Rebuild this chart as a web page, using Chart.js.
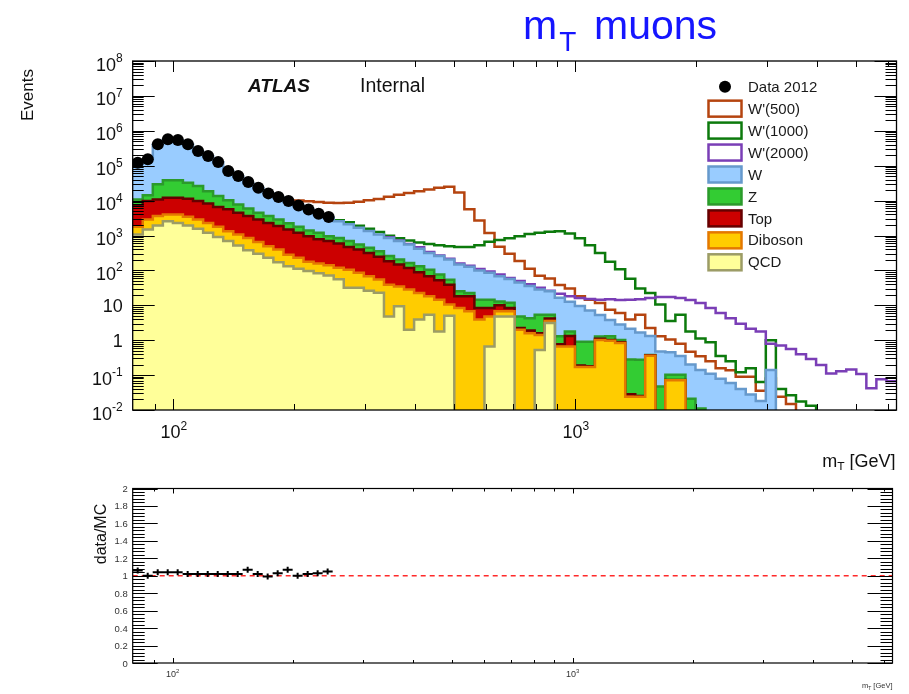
<!DOCTYPE html>
<html>
<head>
<meta charset="utf-8">
<script src="https://cdn.jsdelivr.net/npm/chart.js@4/dist/chart.umd.min.js"></script>
<style>
  html, body { margin: 0; padding: 0; background: #ffffff; overflow: hidden; }
  #wrap { position: relative; width: 909px; height: 694px; }
  canvas { position: absolute; left: 0; }
  #mainPlot { top: 0; }
  #ratioPlot { top: 470px; }
</style>
</head>
<body>
<div id="wrap">
  <canvas id="mainPlot" width="909" height="470"></canvas>
  <canvas id="ratioPlot" width="909" height="224"></canvas>
</div>
<script>
// ---------------------------------------------------------------------------
// m_T distribution for the muon channel: SM stack, W' signals and 2012 data
// ---------------------------------------------------------------------------
const FONT = '"Liberation Sans", Arial, Helvetica, sans-serif';
const X_MIN = 79.43, X_MAX = 6310;

// bin edges [GeV], 40 bins per decade
const mtEdges = [79.43, 84.14, 89.13, 94.41, 100, 105.9, 112.2, 118.9, 125.9, 133.4,
  141.3, 149.6, 158.5, 167.9, 177.8, 188.4, 199.5, 211.3, 223.9, 237.1,
  251.2, 266.1, 281.8, 298.5, 316.2, 335.0, 354.8, 375.8, 398.1, 421.7,
  446.7, 473.2, 501.2, 530.9, 562.3, 595.7, 631.0, 668.3, 707.9, 749.9,
  794.3, 841.4, 891.3, 944.1, 1000, 1059, 1122, 1189, 1259, 1334,
  1413, 1496, 1585, 1679, 1778, 1884, 1995, 2113, 2239, 2371,
  2512, 2661, 2818, 2985, 3162, 3350, 3548, 3758, 3981, 4217,
  4467, 4732, 5012, 5309, 5623, 5957, 6310];

// observed events (first 20 bins)
const dataMt = [122000, 153000, 412000, 573000, 548000, 412000, 265000, 190000, 128000, 70500,
  50700, 34000, 23400, 16100, 12600, 9680, 7280, 5590, 4190, 3370];

// data / MC in the same bins
const ratioDataMC = [1.06, 1.00, 1.04, 1.04, 1.04, 1.02, 1.02, 1.02, 1.02, 1.02,
  1.02, 1.07, 1.02, 0.99, 1.03, 1.07, 1.00, 1.02, 1.03, 1.05];

// background expectations per bin
const qcd = [1070, 1480, 1950, 2570, 2290, 1950, 1550, 1200, 912, 692,
  513, 380, 302, 229, 170, 132, 112, 95.5, 83, 71,
  56, 31.6, 31.6, 26.3, 22.9, 4.79, 9.33, 2.0, 3.89, 5.37,
  1.78, 5.01, 0, 0, 0, 0.66, 4.79, 4.79, 0, 0,
  0.525, 3.09, 0, 0, 0, 0, 0, 0, 0, 0,
  0, 0, 0, 0, 0, 0, 0, 0, 0, 0,
  0, 0, 0, 0, 0, 0, 0, 0, 0, 0,
  0, 0, 0, 0, 0, 0];

const diboson = [706, 1400, 1680, 1410, 1690, 1520, 1330, 1090, 866, 626,
  559, 471, 344, 261, 228, 150, 117, 82.5, 75, 70,
  64, 73, 53.5, 41.3, 32.1, 34.1, 25.4, 26.2, 18.5, 12.8,
  12.7, 5.5, 8.32, 6.76, 3.89, 4.13, 1.97, 1.97, 2.0, 1.59,
  0.89, 0.46, 0.66, 0.66, 0.17, 0.17, 1.02, 0.96, 0.83, 0.024,
  0.024, 0.36, 0, 0.071, 0.071, 0, 0, 0, 0, 0,
  0, 0, 0, 0, 0, 0, 0, 0, 0, 0,
  0, 0, 0, 0, 0, 0];

const topQuark = [5470, 6890, 7080, 8040, 8040, 7750, 6890, 6030, 4830, 4300,
  3400, 2780, 2240, 1800, 1460, 1200, 973, 777, 618, 551,
  469, 363, 313, 248, 190, 143, 113, 89.3, 66.7, 49.4,
  38.0, 28.4, 9.9, 11.4, 4.43, 3.53, 3.24, 1.56, 0.24, 0.32,
  0.17, 0.62, 0.1, 0.66, 0.017, 0.008, 0.073, 0.045, 0.039, 0.0042,
  0.0011, 0.009, 0, 0.0016, 0.0016, 0, 0, 0, 0, 0,
  0, 0, 0, 0, 0, 0, 0, 0, 0, 0,
  0, 0, 0, 0, 0, 0];

const zBoson = [3470, 4350, 18800, 26000, 26000, 21100, 16500, 10300, 6880, 4610,
  3300, 2260, 1580, 1340, 1020, 760, 576, 425, 426, 263,
  262, 224, 152, 131, 110, 75, 56, 44.5, 42.9, 37.1,
  23.4, 14.8, 6.9, 4.2, 6.13, 6.13, 2.9, 3.43, 2.55, 2.36,
  3.79, 1.2, 0.53, 0.46, 0.72, 0.73, 0.19, 0.29, 0.15, 0.25,
  0.25, 0.008, 0.047, 0.03, 0.03, 0.021, 0.011, 0, 0, 0,
  0, 0, 0, 0, 0, 0, 0, 0, 0, 0,
  0, 0, 0, 0, 0, 0];

const wBoson = [104000, 137000, 369000, 512000, 487000, 375000, 231000, 168000, 112000, 59000,
  41200, 25700, 18400, 12600, 9420, 6880, 5470, 4120, 2870, 2280,
  1720, 1400, 1110, 902, 717, 594, 488, 388, 285, 211,
  181, 150, 123, 104, 85.6, 70.7, 54.7, 44.5, 39.9, 31.2,
  22.8, 19.7, 15.3, 10.8, 8.64, 6.17, 3.96, 2.51, 1.80, 1.86,
  1.39, 0.94, 0.43, 0.35, 0.25, 0.18, 0.13, 0.11, 0.079, 0.059,
  0.040, 0.028, 0.018, 0.14, 0, 0, 0, 0, 0, 0,
  0, 0, 0, 0, 0, 0];

// W' signal hypotheses (added on top of the SM expectation)
const wPrime500 = [null, null, null, null, null, null, null, null, null, null,
  null, null, null, null, null, null, 10000, 9550, 9120, 8710,
  8510, 8710, 9330, 10200, 11200, 12900, 14800, 16600, 18600, 20900,
  23400, 25100, 17000, 5620, 2690, 1175, 479, 302, 186, 112,
  70.8, 58.9, 38.0, 30.2, 18.2, 14.5, 11.7, 7.41, 6.03, 3.89,
  5.37, 2.24, 1.29, 1.05, 0.794, 0.468, 0.347, 0.251, 0.158, 0.138,
  0.0891, 0.0891, 0.0355, 0.0794, 0.024, 0.0148, 0, 0, 0, 0,
  0, 0, 0, 0, 0, 0];

const wPrime1000 = [null, null, null, null, null, null, null, null, null, null,
  null, null, null, null, null, null, null, null, null, null,
  2750, 2400, 1900, 1550, 1260, 977, 832, 724, 631, 575,
  525, 490, 468, 468, 525, 661, 741, 832, 955, 1100,
  1200, 1290, 1320, 1150, 832, 525, 316, 178, 107, 57.5,
  30.2, 22.4, 10.5, 3.55, 5.37, 1.78, 1.12, 0.871, 0.355, 0.251,
  0.12, 0.158, 0.0631, 1.0, 0.0398, 0.0263, 0.0174, 0.0132, 0, 0,
  0, 0, 0, 0, 0, 0];

const wPrime2000 = [null, null, null, null, null, null, null, null, null, null,
  null, null, null, null, null, null, null, null, null, null,
  null, null, null, null, null, 891, 724, 575, 457, 339,
  269, 214, 158, 135, 110, 93.3, 75.9, 60.3, 50.1, 39.8,
  31.6, 26.3, 21.4, 18.2, 16.2, 15.1, 14.5, 14.8, 14.1, 14.5,
  14.8, 16.2, 17.4, 17.4, 16.2, 14.1, 11.7, 8.32, 6.03, 4.27,
  2.95, 2.14, 1.78, 0.794, 0.708, 0.562, 0.398, 0.288, 0.195, 0.112,
  0.129, 0.145, 0.107, 0.0417, 0.0759, 0.0661];

// axis tick values and labels
const yMajorTicks = [1e-2, 1e-1, 1, 10, 1e2, 1e3, 1e4, 1e5, 1e6, 1e7, 1e8];
const yTickLabels = [['10', '-2'], ['10', '-1'], ['1', ''], ['10', ''], ['10', '2'], ['10', '3'],
  ['10', '4'], ['10', '5'], ['10', '6'], ['10', '7'], ['10', '8']];
const xMajorTicks = [100, 1000];
const xTickLabels = [['10', '2'], ['10', '3']];
const xMinorTicks = [90, 200, 300, 400, 500, 600, 700, 800, 900, 2000, 3000, 4000, 5000, 6000];
const ratioTicks = [0, 0.2, 0.4, 0.6, 0.8, 1, 1.2, 1.4, 1.6, 1.8, 2];
const ratioTickLabels = ['0', '0.2', '0.4', '0.6', '0.8', '1', '1.2', '1.4', '1.6', '1.8', '2'];

// ---------------------------------------------------------------------------
const nBins = mtEdges.length - 1;
const LOG_FLOOR = 1e-4;   // empty bins are drawn below the visible range
const binCenters = mtEdges.slice(0, nBins).map((e, i) => Math.sqrt(e * mtEdges[i + 1]));

function stepPoints(values) {
  const pts = values.map((v, i) => ({ x: mtEdges[i], y: v === null ? null : Math.max(v, LOG_FLOOR) }));
  const last = values[values.length - 1];
  pts.push({ x: mtEdges[nBins], y: last === null ? null : Math.max(last, LOG_FLOOR) });
  return pts;
}

const stackDefs = [
  { label: 'QCD', values: qcd, fill: '#ffff99', line: '#9c9c66' },
  { label: 'Diboson', values: diboson, fill: '#ffcc00', line: '#e47800' },
  { label: 'Top', values: topQuark, fill: '#cc0000', line: '#660000' },
  { label: 'Z', values: zBoson, fill: '#33cc33', line: '#2b9a2b' },
  { label: 'W', values: wBoson, fill: '#99ccff', line: '#6699cc' }
];
const signalDefs = [
  { label: "W'(500)", values: wPrime500, line: '#b5440f' },
  { label: "W'(1000)", values: wPrime1000, line: '#0c7a0c' },
  { label: "W'(2000)", values: wPrime2000, line: '#7a3eb6' }
];

// cumulative stack sums
let running = new Array(nBins).fill(0);
const stackDatasets = stackDefs.map((s, k) => {
  running = running.map((acc, i) => acc + s.values[i]);
  return {
    label: s.label,
    data: stepPoints(running.slice()),
    stepped: 'before',
    fill: 'start',
    backgroundColor: s.fill,
    borderColor: s.line,
    borderWidth: 2.5,
    pointRadius: 0,
    borderJoinStyle: 'miter',
    order: 1 + k
  };
});

const signalDatasets = signalDefs.map((s, k) => ({
  label: s.label,
  data: stepPoints(s.values),
  stepped: 'before',
  fill: false,
  borderColor: s.line,
  borderWidth: 2.5,
  pointRadius: 0,
  borderJoinStyle: 'miter',
  order: 8 - k
}));

const dataDataset = {
  label: 'Data 2012',
  data: dataMt.map((v, i) => ({ x: binCenters[i], y: v })),
  showLine: false,
  pointRadius: 6,
  pointBackgroundColor: '#000000',
  pointBorderColor: '#000000',
  pointBorderWidth: 0,
  order: 0
};

// ---------------------------------------------------------------------------
function line(ctx, x1, y1, x2, y2) {
  ctx.beginPath(); ctx.moveTo(x1, y1); ctx.lineTo(x2, y2); ctx.stroke();
}

function powLabel(ctx, base, exp, x, yBase, align, baseSize, expSize, expRise) {
  ctx.font = `${baseSize}px ${FONT}`;
  const wb = ctx.measureText(base).width;
  ctx.font = `${expSize}px ${FONT}`;
  const we = exp ? ctx.measureText(exp).width : 0;
  const total = wb + we;
  const x0 = align === 'right' ? x - total : (align === 'center' ? x - total / 2 : x);
  ctx.textAlign = 'left';
  ctx.textBaseline = 'alphabetic';
  ctx.font = `${baseSize}px ${FONT}`;
  ctx.fillText(base, x0, yBase);
  if (exp) {
    ctx.font = `${expSize}px ${FONT}`;
    ctx.fillText(exp, x0 + wb, yBase - expRise);
  }
}

function subLabel(ctx, main, sub, rest, xRight, yBase, size, subSize, subDrop) {
  ctx.font = `${size}px ${FONT}`;
  const w1 = ctx.measureText(main).width;
  const w3 = ctx.measureText(rest).width;
  ctx.font = `${subSize}px ${FONT}`;
  const w2 = ctx.measureText(sub).width;
  const x0 = xRight - (w1 + w2 + w3);
  ctx.textAlign = 'left';
  ctx.textBaseline = 'alphabetic';
  ctx.font = `${size}px ${FONT}`;
  ctx.fillText(main, x0, yBase);
  ctx.fillText(rest, x0 + w1 + w2, yBase);
  ctx.font = `${subSize}px ${FONT}`;
  ctx.fillText(sub, x0 + w1, yBase + subDrop);
}

// frame, ticks, labels, legend and captions of the main panel
const mainDecor = {
  id: 'mainDecor',
  afterDraw(chart) {
    const { ctx, chartArea: a, scales } = chart;
    const xs = scales.x, ys = scales.y;
    ctx.save();
    ctx.strokeStyle = '#000';
    ctx.fillStyle = '#000';

    // y ticks, both sides
    ctx.lineWidth = 1;
    yMajorTicks.forEach(v => {
      const py = Math.round(ys.getPixelForValue(v)) + 0.5;
      line(ctx, a.left, py, a.left + 22, py);
      line(ctx, a.right - 22, py, a.right, py);
    });
    for (let d = -2; d < 8; d++) {
      for (let m = 2; m <= 9; m++) {
        const py = Math.round(ys.getPixelForValue(m * Math.pow(10, d))) + 0.5;
        line(ctx, a.left, py, a.left + 11, py);
        line(ctx, a.right - 11, py, a.right, py);
      }
    }
    // x ticks, bottom and top
    xMajorTicks.forEach(v => {
      const px = Math.round(xs.getPixelForValue(v)) + 0.5;
      line(ctx, px, a.bottom, px, a.bottom - 11);
      line(ctx, px, a.top, px, a.top + 11);
    });
    xMinorTicks.forEach(v => {
      const px = Math.round(xs.getPixelForValue(v)) + 0.5;
      line(ctx, px, a.bottom, px, a.bottom - 6);
      line(ctx, px, a.top, px, a.top + 6);
    });

    // frame
    ctx.lineWidth = 1.3;
    ctx.strokeRect(a.left, a.top, a.right - a.left, a.bottom - a.top);

    // y tick labels
    ctx.fillStyle = '#111';
    yMajorTicks.forEach((v, i) => {
      const py = ys.getPixelForValue(v);
      const [b, e] = yTickLabels[i];
      if (e) powLabel(ctx, b, e, a.left - 10, py + 9.5, 'right', 18, 12, 8.5);
      else powLabel(ctx, b, '', a.left - 10, py + 6.5, 'right', 18, 12, 0);
    });
    // x tick labels
    xMajorTicks.forEach((v, i) => {
      const px = xs.getPixelForValue(v);
      const [b, e] = xTickLabels[i];
      powLabel(ctx, b, e, px + 1, a.bottom + 28, 'center', 18, 12, 8.5);
    });

    // axis titles
    ctx.save();
    ctx.translate(33, 95);
    ctx.rotate(-Math.PI / 2);
    ctx.font = `17px ${FONT}`;
    ctx.textAlign = 'center';
    ctx.textBaseline = 'alphabetic';
    ctx.fillText('Events', 0, 0);
    ctx.restore();
    subLabel(ctx, 'm', 'T', ' [GeV]', a.right - 1, 467, 18, 12, 4);

    // ATLAS label
    ctx.textAlign = 'left';
    ctx.textBaseline = 'alphabetic';
    ctx.font = `italic bold 19px ${FONT}`;
    ctx.fillText('ATLAS', 248, 92);
    ctx.font = `19.5px ${FONT}`;
    ctx.fillText('Internal', 360, 92);

    // legend
    const lx = 708.5, bw = 33, bh = 16, tx = 748, ly0 = 86.7, ldy = 21.95;
    const items = [{ label: 'Data 2012', kind: 'dot' }]
      .concat(signalDefs.map(s => ({ label: s.label, kind: 'line', line: s.line })))
      .concat(stackDefs.slice().reverse().map(s => ({ label: s.label, kind: 'box', fill: s.fill, line: s.line })));
    items.forEach((it, k) => {
      const cy = ly0 + k * ldy;
      if (it.kind === 'dot') {
        ctx.fillStyle = '#000';
        ctx.beginPath(); ctx.arc(lx + bw / 2, cy, 6, 0, Math.PI * 2); ctx.fill();
      } else {
        ctx.fillStyle = it.kind === 'box' ? it.fill : '#ffffff';
        ctx.fillRect(lx, cy - bh / 2, bw, bh);
        ctx.strokeStyle = it.line;
        ctx.lineWidth = 2.5;
        ctx.strokeRect(lx, cy - bh / 2, bw, bh);
      }
      ctx.fillStyle = '#1a1a1a';
      ctx.font = `15px ${FONT}`;
      ctx.textAlign = 'left';
      ctx.textBaseline = 'middle';
      ctx.fillText(it.label, tx, cy + 1);
    });

    // page caption
    ctx.fillStyle = '#1515ff';
    ctx.textBaseline = 'alphabetic';
    ctx.font = `41px ${FONT}`;
    ctx.fillText('m', 523, 39);
    const wm = ctx.measureText('m').width;
    ctx.font = `28px ${FONT}`;
    ctx.fillText('T', 523 + wm + 2, 51);
    ctx.font = `41px ${FONT}`;
    ctx.fillText('muons', 594, 39);

    ctx.restore();
  }
};

new Chart(document.getElementById('mainPlot'), {
  type: 'line',
  data: { datasets: [dataDataset].concat(stackDatasets, signalDatasets) },
  options: {
    responsive: false,
    animation: false,
    devicePixelRatio: 1,
    events: [],
    layout: { padding: { left: 132.7, right: 12.5, top: 61, bottom: 60 } },
    scales: {
      x: { type: 'logarithmic', min: X_MIN, max: X_MAX, display: false },
      y: { type: 'logarithmic', min: 1e-2, max: 1e8, display: false }
    },
    plugins: { legend: { display: false }, tooltip: { enabled: false } }
  },
  plugins: [mainDecor]
});

// ---------------------------------------------------------------------------
// ratio panel
const ratioSegments = [];
ratioDataMC.forEach((r, i) => {
  ratioSegments.push({ x: mtEdges[i], y: r }, { x: mtEdges[i + 1], y: r }, { x: mtEdges[i + 1], y: null });
});

const ratioDecor = {
  id: 'ratioDecor',
  afterDraw(chart) {
    const { ctx, chartArea: a, scales } = chart;
    const xs = scales.x, ys = scales.y;
    ctx.save();
    ctx.strokeStyle = '#000';
    ctx.lineWidth = 1;
    ratioTicks.forEach(v => {
      const py = Math.round(ys.getPixelForValue(v)) + 0.5;
      line(ctx, a.left, py, a.left + 25, py);
      line(ctx, a.right - 25, py, a.right, py);
    });
    for (let k = 0; k < 50; k++) {
      if (k % 5 === 0) continue;
      const py = Math.round(ys.getPixelForValue(k * 0.04)) + 0.5;
      line(ctx, a.left, py, a.left + 12, py);
      line(ctx, a.right - 12, py, a.right, py);
    }
    xMajorTicks.forEach(v => {
      const px = Math.round(xs.getPixelForValue(v)) + 0.5;
      line(ctx, px, a.bottom, px, a.bottom - 5);
      line(ctx, px, a.top, px, a.top + 5);
    });
    xMinorTicks.forEach(v => {
      const px = Math.round(xs.getPixelForValue(v)) + 0.5;
      line(ctx, px, a.bottom, px, a.bottom - 3);
      line(ctx, px, a.top, px, a.top + 3);
    });
    ctx.lineWidth = 1.2;
    ctx.strokeRect(a.left, a.top, a.right - a.left, a.bottom - a.top);

    ctx.fillStyle = '#333';
    ratioTicks.forEach((v, i) => {
      const py = ys.getPixelForValue(v);
      ctx.font = `9.5px ${FONT}`;
      ctx.textAlign = 'right';
      ctx.textBaseline = 'alphabetic';
      ctx.fillText(ratioTickLabels[i], a.left - 5, py + 3.5);
    });
    xMajorTicks.forEach((v, i) => {
      const px = xs.getPixelForValue(v);
      const [b, e] = xTickLabels[i];
      powLabel(ctx, b, e, px, a.bottom + 14, 'center', 9, 6, 4.5);
    });
    subLabel(ctx, 'm', 'T', ' [GeV]', a.right, 218, 7.5, 5, 2);

    ctx.fillStyle = '#111';
    ctx.save();
    ctx.translate(106, 64);
    ctx.rotate(-Math.PI / 2);
    ctx.font = `16px ${FONT}`;
    ctx.textAlign = 'center';
    ctx.fillText('data/MC', 0, 0);
    ctx.restore();
    ctx.restore();
  }
};

new Chart(document.getElementById('ratioPlot'), {
  type: 'line',
  data: {
    datasets: [
      {
        label: 'data/MC',
        data: ratioSegments,
        borderColor: '#000',
        borderWidth: 2,
        pointRadius: 0,
        spanGaps: false,
        order: 0
      },
      {
        label: 'data/MC errors',
        data: ratioDataMC.map((r, i) => ({ x: binCenters[i], y: r })),
        showLine: false,
        pointStyle: 'line',
        rotation: 90,
        pointRadius: 3,
        pointBorderWidth: 2,
        pointBorderColor: '#000',
        order: 0
      },
      {
        label: 'unity',
        data: [{ x: X_MIN, y: 1 }, { x: X_MAX, y: 1 }],
        borderColor: '#ff2a2a',
        borderWidth: 1.6,
        borderDash: [5, 4],
        pointRadius: 0,
        order: 1
      }
    ]
  },
  options: {
    responsive: false,
    animation: false,
    devicePixelRatio: 1,
    events: [],
    layout: { padding: { left: 132.7, right: 16.5, top: 18.5, bottom: 31 } },
    scales: {
      x: { type: 'logarithmic', min: X_MIN, max: X_MAX, display: false },
      y: { type: 'linear', min: 0, max: 2, display: false }
    },
    plugins: { legend: { display: false }, tooltip: { enabled: false } }
  },
  plugins: [ratioDecor]
});
</script>
</body>
</html>
